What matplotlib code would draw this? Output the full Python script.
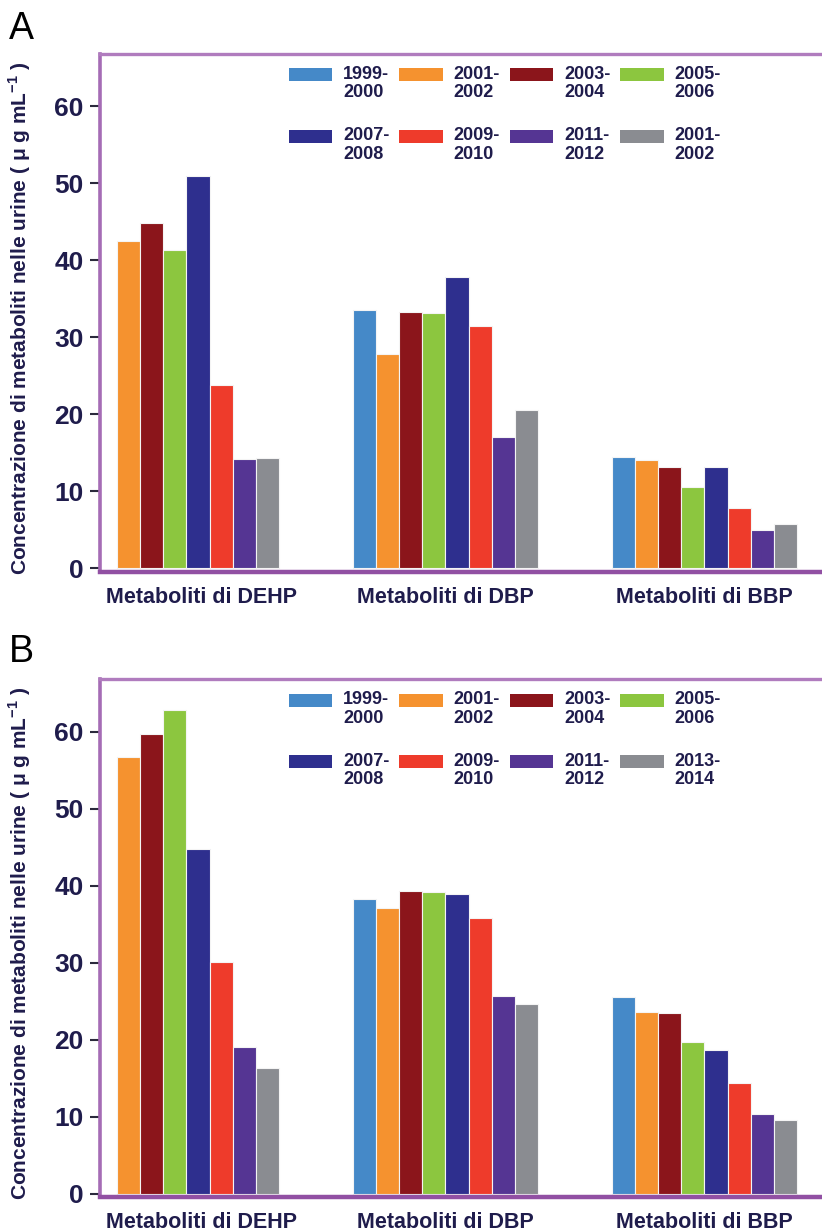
import numpy as np
import matplotlib
matplotlib.use("Agg")
import matplotlib.pyplot as plt
from matplotlib.patches import Rectangle
from matplotlib.legend_handler import HandlerPatch
from matplotlib.container import BarContainer

# ---------------- data ----------------
groups = ["Metaboliti di DEHP", "Metaboliti di DBP", "Metaboliti di BBP"]

labels_A = ["1999-\n2000", "2001-\n2002", "2003-\n2004", "2005-\n2006",
            "2007-\n2008", "2009-\n2010", "2011-\n2012", "2001-\n2002"]
labels_B = ["1999-\n2000", "2001-\n2002", "2003-\n2004", "2005-\n2006",
            "2007-\n2008", "2009-\n2010", "2011-\n2012", "2013-\n2014"]

# values per survey period: [DEHP, DBP, BBP]
A_1999_2000 = [np.nan, 33.5, 14.4]
A_2001_2002 = [42.5, 27.8, 14.1]
A_2003_2004 = [44.9, 33.3, 13.2]
A_2005_2006 = [41.3, 33.2, 10.6]
A_2007_2008 = [50.9, 37.8, 13.1]
A_2009_2010 = [23.8, 31.5, 7.8]
A_2011_2012 = [14.2, 17.0, 5.0]
A_2001_2002b = [14.3, 20.5, 5.7]

B_1999_2000 = [np.nan, 38.2, 25.5]
B_2001_2002 = [56.7, 37.1, 23.6]
B_2003_2004 = [59.7, 39.3, 23.4]
B_2005_2006 = [62.8, 39.2, 19.7]
B_2007_2008 = [44.7, 38.9, 18.6]
B_2009_2010 = [30.1, 35.8, 14.4]
B_2011_2012 = [19.1, 25.6, 10.3]
B_2013_2014 = [16.3, 24.6, 9.5]

series_A = [A_1999_2000, A_2001_2002, A_2003_2004, A_2005_2006,
            A_2007_2008, A_2009_2010, A_2011_2012, A_2001_2002b]
series_B = [B_1999_2000, B_2001_2002, B_2003_2004, B_2005_2006,
            B_2007_2008, B_2009_2010, B_2011_2012, B_2013_2014]

yticks = [0, 10, 20, 30, 40, 50, 60]

colors = ["#4589c8", "#f5922f", "#8b151b", "#8cc63f",
          "#2e2f8e", "#ee3b2b", "#553593", "#8a8c91"]

NAVY = "#1f1c4c"
FONT = "Liberation Sans"
plt.rcParams["font.family"] = [FONT, "DejaVu Sans"]
plt.rcParams["mathtext.fontset"] = "custom"
plt.rcParams["mathtext.rm"] = FONT
plt.rcParams["mathtext.bf"] = FONT + ":bold"


class UpPatch(HandlerPatch):
    """Legend patch aligned with the first line of a two-line label."""
    def create_artists(self, legend, orig_handle, xdescent, ydescent,
                       width, height, fontsize, trans):
        fc = orig_handle.patches[0].get_facecolor()
        p = Rectangle((-xdescent, -ydescent + 0.5 * fontsize), width, height,
                      facecolor=fc, edgecolor="none", transform=trans)
        return [p]


W, H = 822, 1231
fig = plt.figure(figsize=(W / 100, H / 100), dpi=100)

ax_left = 99.7
ax_h = 517.7
NCOL = 4


def make_panel(top_px, series, labels, letter, letter_base_px):
    ax = fig.add_axes([ax_left / W, 1 - (top_px + ax_h) / H,
                       (W - ax_left) / W, ax_h / H])
    n = len(series)
    w = 0.0896
    x = np.arange(len(groups))
    conts = []
    for i, (vals, c) in enumerate(zip(series, colors)):
        bc = ax.bar(x + (i - (n - 1) / 2) * w, vals, width=w, color=c,
                    edgecolor="#f4f4f4", linewidth=0.8, zorder=2)
        conts.append(bc)
    ax.set_xlim(-0.335, 2.454)
    ax.set_ylim(-0.45, 66.8)
    ax.set_yticks(yticks)
    ax.set_yticklabels([str(t) for t in yticks], fontsize=19,
                       fontweight="bold", color=NAVY)
    ax.tick_params(axis="y", direction="out", length=7, width=1.5,
                   color="#2a2a3c", pad=4.5)
    ax.set_xticks([0.058, 1, 2])
    ax.set_xticklabels(groups, fontsize=15.5, fontweight="bold", color=NAVY)
    ax.tick_params(axis="x", length=0, pad=11)

    ax.spines["right"].set_visible(False)
    ax.spines["left"].set_color("#a56cb5")
    ax.spines["left"].set_linewidth(2.6)
    ax.spines["top"].set_color("#b07cbe")
    ax.spines["top"].set_linewidth(2.4)
    ax.spines["bottom"].set_color("#9150a3")
    ax.spines["bottom"].set_linewidth(3.2)

    ax.set_ylabel("Concentrazione di metaboliti nelle urine ( μ g mL$^{\\mathbf{-1}}$ )",
                  fontsize=15, fontweight="bold", color=NAVY)
    ax.yaxis.set_label_coords((33 - ax_left) / (W - ax_left), 0.49)

    # legend filled row by row (matplotlib fills column by column)
    nrow = int(np.ceil(len(conts) / NCOL))
    order = [r * NCOL + c for c in range(NCOL) for r in range(nrow)]
    leg = ax.legend([conts[k] for k in order], [labels[k] for k in order],
                    ncol=NCOL, loc="upper left",
                    bbox_to_anchor=((289 - ax_left) / (W - ax_left), 0.977),
                    frameon=False, borderpad=0, borderaxespad=0,
                    handlelength=2.4, handleheight=0.72, handletextpad=0.6,
                    columnspacing=0.55, labelspacing=1.43,
                    prop={"family": FONT, "weight": "bold", "size": 13},
                    handler_map={BarContainer: UpPatch()})
    for t in leg.get_texts():
        t.set_color(NAVY)
        t.set_linespacing(1.12)

    fig.text(9 / W, 1 - letter_base_px / H, letter, fontsize=27,
             color="black", ha="left", va="baseline", family=FONT)
    return ax


make_panel(54.0, series_A, labels_A, "A", 39)
make_panel(679.3, series_B, labels_B, "B", 662)

fig.savefig("out.png", dpi=100)
